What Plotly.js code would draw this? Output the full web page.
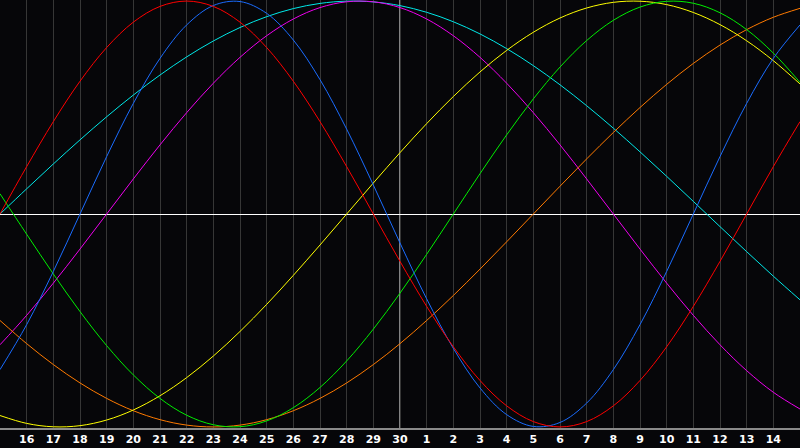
<!DOCTYPE html>
<html>
<head>
<meta charset="utf-8">
<script src="https://cdn.plot.ly/plotly-3.0.1.min.js"></script>
<style>
html,body{margin:0;padding:0;background:#060609;}
#chart{width:800px;height:448px;}
</style>
</head>
<body>
<div id="chart"></div>
<script>
// Day labels (15th of previous month .. 15th of current month)
const dayLabels = ["15","16","17","18","19","20","21","22","23","24","25","26","27","28","29","30",
                   "1","2","3","4","5","6","7","8","9","10","11","12","13","14","15"];

// Cycle values, one per day
const red = [0,0.2225,0.4339,0.6235,0.7818,0.9010,0.9749,1,0.9749,0.9010,0.7818,0.6235,0.4339,0.2225,0,
  -0.2225,-0.4339,-0.6235,-0.7818,-0.9010,-0.9749,-1,-0.9749,-0.9010,-0.7818,-0.6235,-0.4339,-0.2225,0,0.2225,0.4339];
const blue = [-0.7308,-0.5196,-0.2698,0,0.2698,0.5196,0.7308,0.8879,0.9791,0.9977,0.9423,0.8170,0.6311,0.3984,0.1362,
  -0.1362,-0.3984,-0.6311,-0.8170,-0.9423,-0.9977,-0.9791,-0.8879,-0.7308,-0.5196,-0.2698,0,0.2698,0.5196,0.7308,0.8879];
const green = [0.0950,-0.0950,-0.2817,-0.4582,-0.6182,-0.7557,-0.8660,-0.9450,-0.9898,-0.9989,-0.9718,-0.9096,-0.8146,-0.6901,-0.5406,
  -0.3717,-0.1893,0,0.1893,0.3717,0.5406,0.6901,0.8146,0.9096,0.9718,0.9989,0.9898,0.9450,0.8660,0.7557,0.6182];
const yellow = [-0.9464,-0.9834,-0.9993,-0.9940,-0.9675,-0.9204,-0.8535,-0.7684,-0.6671,-0.5517,-0.4245,-0.2881,-0.1456,0,0.1456,
  0.2881,0.4245,0.5517,0.6671,0.7684,0.8535,0.9204,0.9675,0.9940,0.9993,0.9834,0.9464,0.8894,0.8135,0.7200,0.6109];
const orange = [-0.5,-0.6088,-0.7071,-0.7934,-0.8660,-0.9239,-0.9659,-0.9914,-1,-0.9914,-0.9659,-0.9239,-0.8660,-0.7934,-0.7071,
  -0.6088,-0.5,-0.3827,-0.2588,-0.1305,0,0.1305,0.2588,0.3827,0.5,0.6088,0.7071,0.7934,0.8660,0.9239,0.9659];
const magenta = [-0.6142,-0.4759,-0.3247,-0.1646,0,0.1646,0.3247,0.4759,0.6142,0.7357,0.8372,0.9158,0.9694,0.9966,0.9966,
  0.9694,0.9158,0.8372,0.7357,0.6142,0.4759,0.3247,0.1646,0,-0.1646,-0.3247,-0.4759,-0.6142,-0.7357,-0.8372,-0.9158];
const cyan = [0,0.1183,0.2349,0.3482,0.4566,0.5586,0.6527,0.7378,0.8126,0.8758,0.9267,0.9647,0.9890,0.9996,0.9961,
  0.9786,0.9473,0.9028,0.8457,0.7767,0.6967,0.6068,0.5085,0.4031,0.2920,0.1769,0.0592,-0.0592,-0.1769,-0.2920,-0.4031];

const todayIndex = 15;

const xs = dayLabels.map((_, i) => i);
const tickIdx = xs.slice(1, xs.length - 1);
const tickTxt = tickIdx.map(i => dayLabels[i]);

const series = [
  {y: cyan,    color: '#00e8e8'},
  {y: magenta, color: '#ee00ee'},
  {y: orange,  color: '#ff7a00'},
  {y: yellow,  color: '#ffff00'},
  {y: green,   color: '#00ee00'},
  {y: blue,    color: '#1a6cff'},
  {y: red,     color: '#ff0000'}
];

const traces = series.map(s => ({
  x: xs, y: s.y, type: 'scatter', mode: 'lines',
  line: {color: s.color, width: 1, shape: 'spline', smoothing: 1},
  hoverinfo: 'skip', showlegend: false
}));

const layout = {
  width: 800, height: 448,
  margin: {l: 0, r: 0, t: 0, b: 20, pad: 0},
  paper_bgcolor: '#060609',
  plot_bgcolor: '#060609',
  showlegend: false,
  xaxis: {
    range: [0, 30], fixedrange: true,
    tickmode: 'array', tickvals: tickIdx, ticktext: tickTxt,
    showgrid: true, gridcolor: '#363636', gridwidth: 1,
    zeroline: false, ticks: '', ticklen: 0,
    showline: true, linecolor: '#8a8a8a', linewidth: 2, mirror: true,
    tickfont: {family: 'DejaVu Sans, sans-serif', size: 11, color: '#ffffff', weight: 'bold'}
  },
  yaxis: {
    range: [-1.005, 1.005], fixedrange: true,
    showgrid: false, showticklabels: false, ticks: '',
    zeroline: true, zerolinecolor: '#ffffff', zerolinewidth: 1,
    showline: true, linecolor: '#8a8a8a', linewidth: 2
  },
  shapes: [
    {type: 'line', xref: 'x', yref: 'paper', x0: todayIndex, x1: todayIndex, y0: 0, y1: 1,
     line: {color: '#ffffff', width: 1}, layer: 'below'}
  ]
};

Plotly.newPlot('chart', traces, layout, {displayModeBar: false, staticPlot: true});
</script>
</body>
</html>
